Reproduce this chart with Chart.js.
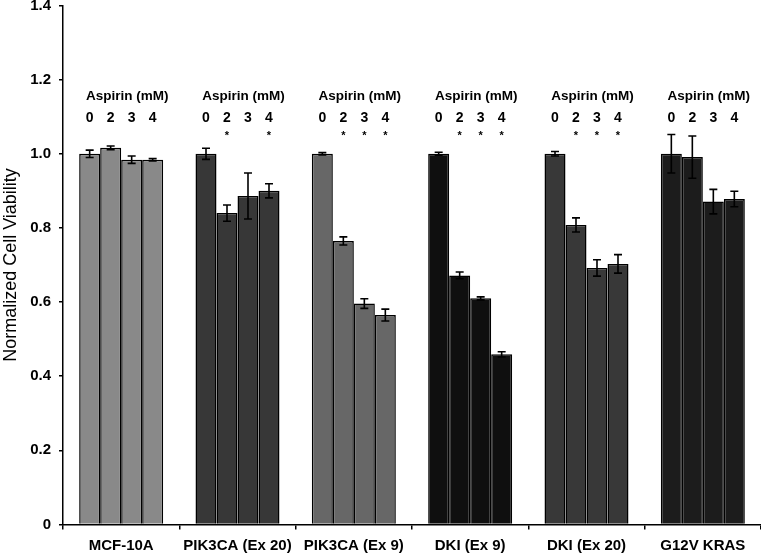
<!DOCTYPE html>
<html>
<head>
<meta charset="utf-8">
<script src="https://cdn.jsdelivr.net/npm/chart.js@4.4.1/dist/chart.umd.min.js"></script>
<style>
html,body{margin:0;padding:0;background:#fff;}
#wrap{width:761px;height:557px;position:relative;}
</style>
</head>
<body>
<div id="wrap"><canvas id="c" width="761" height="557"></canvas></div>
<script>
// ---- data ----
const categories = ['MCF-10A', 'PIK3CA (Ex 20)', 'PIK3CA (Ex 9)', 'DKI (Ex 9)', 'DKI (Ex 20)', 'G12V KRAS'];
const doses = ['0', '2', '3', '4'];
const dose0 = [1.000, 1.000, 1.000, 1.000, 1.000, 1.000];
const dose2 = [1.016, 0.840, 0.765, 0.672, 0.808, 0.991];
const dose3 = [0.984, 0.886, 0.596, 0.610, 0.692, 0.871];
const dose4 = [0.984, 0.900, 0.565, 0.459, 0.703, 0.878];
const err0 = [0.010, 0.015, 0.003, 0.004, 0.006, 0.052];
const err2 = [0.005, 0.022, 0.011, 0.009, 0.019, 0.057];
const err3 = [0.010, 0.062, 0.013, 0.004, 0.022, 0.033];
const err4 = [0.003, 0.019, 0.016, 0.007, 0.025, 0.021];
const sig0 = [false, false, false, false, false, false];
const sig2 = [false, true, true, true, true, false];
const sig3 = [false, false, true, true, true, false];
const sig4 = [false, true, true, true, true, false];
const yTicks = [0, 0.2, 0.4, 0.6, 0.8, 1.0, 1.2, 1.4];
const groupColors = ['#898989', '#373737', '#676767', '#0f0f0f', '#383838', '#1c1c1c'];

const values = [dose0, dose2, dose3, dose4];
const errors = [err0, err2, err3, err4];
const sigs = [sig0, sig2, sig3, sig4];
const FONT = '"Liberation Sans", Arial, sans-serif';

const errorBars = {
  id: 'errorBars',
  afterDatasetsDraw(chart) {
    const ctx = chart.ctx, y = chart.scales.y;
    ctx.save();
    ctx.strokeStyle = '#000';
    ctx.lineWidth = 1.6;
    chart.data.datasets.forEach((ds, di) => {
      const meta = chart.getDatasetMeta(di);
      meta.data.forEach((el, i) => {
        const v = ds.data[i], e = errors[di][i];
        const yt = y.getPixelForValue(v + e), yb = y.getPixelForValue(v - e);
        const x = el.x, cw = 4;
        ctx.beginPath();
        ctx.moveTo(x, yt); ctx.lineTo(x, yb);
        ctx.moveTo(x - cw, yt); ctx.lineTo(x + cw, yt);
        ctx.moveTo(x - cw, yb); ctx.lineTo(x + cw, yb);
        ctx.stroke();
      });
    });
    ctx.restore();
  }
};

const annotations = {
  id: 'annotations',
  afterDatasetsDraw(chart) {
    const ctx = chart.ctx, y = chart.scales.y;
    ctx.save();
    ctx.fillStyle = '#000';
    ctx.textAlign = 'center';
    const yTitle = y.getPixelForValue(1.154);
    const yDose = y.getPixelForValue(1.097);
    const yStar = y.getPixelForValue(1.055);
    categories.forEach((cat, i) => {
      const xs = chart.data.datasets.map((ds, di) => chart.getDatasetMeta(di).data[i].x);
      const cx = (xs[0] + xs[xs.length - 1]) / 2;
      ctx.font = 'bold 13.5px ' + FONT;
      ctx.textBaseline = 'middle';
      ctx.fillText('Aspirin (mM)', cx + 6, yTitle);
      ctx.font = 'bold 14px ' + FONT;
      doses.forEach((d, di) => ctx.fillText(d, xs[di], yDose));
      ctx.font = 'bold 11px ' + FONT;
      ctx.textBaseline = 'alphabetic';
      doses.forEach((d, di) => { if (sigs[di][i]) ctx.fillText('*', xs[di], yStar + 6); });
    });
    ctx.restore();
  }
};

new Chart(document.getElementById('c'), {
  type: 'bar',
  data: {
    labels: categories,
    datasets: values.map((vals, di) => ({
      label: doses[di] + ' mM',
      data: vals,
      backgroundColor: groupColors,
      borderColor: '#000',
      borderWidth: 1.5,
      borderSkipped: 'bottom',
      categoryPercentage: 0.722,
      barPercentage: 1.0
    }))
  },
  options: {
    responsive: false,
    animation: false,
    devicePixelRatio: 1,
    layout: { padding: { top: 5.5, right: 0, bottom: 0, left: 0 } },
    plugins: { legend: { display: false }, tooltip: { enabled: false } },
    scales: {
      x: {
        grid: { display: true, drawOnChartArea: false, offset: true, tickLength: 5, color: '#000', lineWidth: 1.5 },
        border: { display: true, color: '#000', width: 1.5 },
        ticks: { color: '#000', font: { family: FONT, size: 15, weight: 'bold' }, padding: 7, maxRotation: 0, autoSkip: false },
        afterFit(s) { s.height = 32.5; s.paddingLeft = 0; s.paddingRight = 0; }
      },
      y: {
        min: 0, max: 1.4,
        afterBuildTicks(s) { s.ticks = yTicks.map(v => ({ value: v })); },
        grid: { display: true, drawOnChartArea: false, tickLength: 4, color: '#000', lineWidth: 1.5 },
        border: { display: true, color: '#000', width: 1.5 },
        ticks: {
          color: '#000', padding: 8,
          font: { family: FONT, size: 15, weight: 'bold' },
          callback: v => v === 0 ? '0' : Number(v).toFixed(1)
        },
        title: { display: true, text: 'Normalized Cell Viability', color: '#000', font: { family: FONT, size: 18 }, padding: { top: 0, bottom: 0 } },
        afterFit(s) { s.width = 63; s.paddingTop = 0; s.paddingBottom = 0; }
      }
    }
  },
  plugins: [errorBars, annotations]
});
</script>
</body>
</html>
